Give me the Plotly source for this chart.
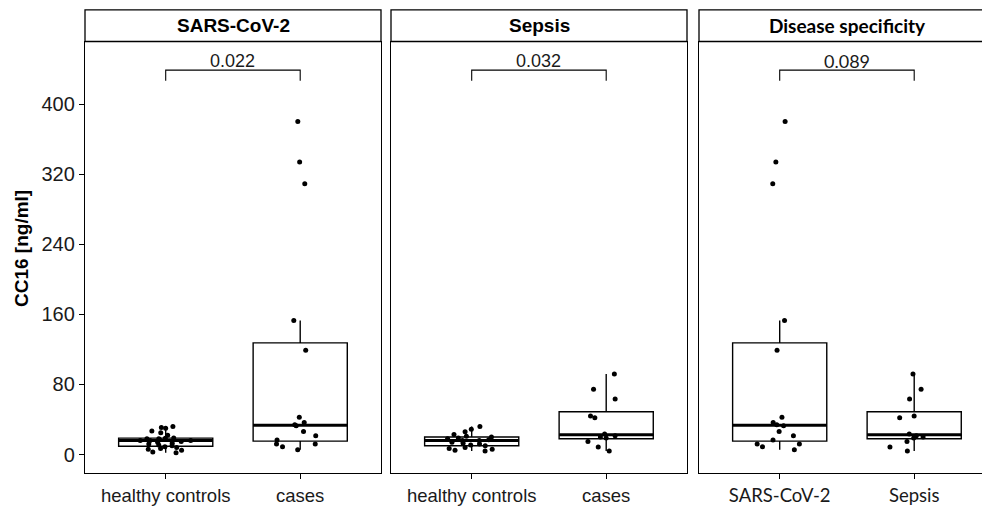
import numpy as np
import plotly.graph_objects as go

# ---------------- data ----------------
panel_titles = ["SARS-CoV-2", "Sepsis", "Disease specificity"]
panel_categories = [["healthy controls", "cases"],
                    ["healthy controls", "cases"],
                    ["SARS-CoV-2", "Sepsis"]]
p_values = ["0.022", "0.032", "0.089"]

covid_controls = [2, 3, 5, 6, 7, 8, 9, 10, 11, 12, 13, 14, 15, 16, 16, 16, 17,
                  18, 18, 18.5, 19, 22, 25, 27, 30, 31, 32]
covid_cases = [5.6, 9, 12, 12, 16.5, 21.4, 26.3, 33, 34, 36.5, 42.5, 119, 153,
               309, 334, 380]
sepsis_controls = [4, 5, 6, 7, 8, 10, 11, 12, 13, 14, 16, 16, 17, 18, 19, 20,
                   21, 23, 26, 29, 32]
sepsis_cases = [4.1, 8.7, 15, 19, 20, 21.5, 23.5, 42, 44, 63.5, 74.4, 92]

y_ticks = [0, 80, 160, 240, 320, 400]
y_title = "CC16 [ng/ml]"

panel_groups = [[covid_controls, covid_cases],
                [sepsis_controls, sepsis_cases],
                [covid_cases, sepsis_cases]]


def box_stats(vals):
    v = np.asarray(vals, dtype=float)
    q1, med, q3 = np.percentile(v, [25, 50, 75])
    iqr = q3 - q1
    lo = v[v >= q1 - 1.5 * iqr].min()
    hi = v[v <= q3 + 1.5 * iqr].max()
    return float(q1), float(med), float(q3), float(lo), float(hi)


# ---------------- layout geometry ----------------
W, H = 982, 506
panel_px = [(85, 381), (391, 687), (699, 982)]
full_right3 = 996
plot_top, plot_bottom, strip_top = 42, 479, 10
unit_px = 134.5
y_range = [-21.4, 471.4]
bracket_top, bracket_low, label_y = 438.7, 426.7, 449
box_w = 0.7

arial = "Liberation Sans, Arial, sans-serif"
calibri = "Lato, sans-serif"
txt = "#1a1a1a"

fig = go.Figure()
shapes = []
annotations = []
layout = {}

for i in range(3):
    suf = "" if i == 0 else str(i + 1)
    xa, ya = "x" + suf, "y" + suf
    cats = panel_categories[i]
    groups = panel_groups[i]
    fam = calibri if i == 2 else arial

    stats = [box_stats(g) for g in groups]
    fig.add_trace(go.Box(
        x=cats, xaxis=xa, yaxis=ya,
        q1=[s[0] for s in stats], median=[s[1] for s in stats],
        q3=[s[2] for s in stats], lowerfence=[s[3] for s in stats],
        upperfence=[s[4] for s in stats],
        boxpoints=False, width=box_w, whiskerwidth=0,
        fillcolor="rgba(0,0,0,0)",
        line=dict(color="black", width=1.4),
        showlegend=False, hoverinfo="skip",
    ))

    xs, ys = [], []
    for c, vals in zip(cats, groups):
        xs += [c] * len(vals)
        ys += list(vals)
    fig.add_trace(go.Box(
        x=xs, y=ys, xaxis=xa, yaxis=ya,
        boxpoints="all", jitter=0.6, pointpos=0, width=box_w,
        whiskerwidth=0, fillcolor="rgba(0,0,0,0)",
        line=dict(color="rgba(0,0,0,0)", width=0),
        marker=dict(color="black", size=5),
        showlegend=False, hoverinfo="y",
    ))

    # thicker median lines
    for j, s in enumerate(stats):
        shapes.append(dict(type="line", xref=xa, yref=ya,
                           x0=j - box_w / 2, x1=j + box_w / 2, y0=s[1], y1=s[1],
                           line=dict(color="black", width=3), layer="below"))

    x0, x1 = panel_px[i]
    layout["xaxis" + suf] = dict(
        domain=[x0 / W, x1 / W], anchor=ya, type="category",
        categoryorder="array", categoryarray=cats,
        range=[-0.6, -0.6 + (x1 - x0) / unit_px],
        showline=True, mirror=True, linecolor="black", linewidth=1.3,
        ticks="outside", ticklen=5, tickcolor="black", tickwidth=1.2,
        tickfont=dict(family=fam, size=18.5, color=txt),
        showgrid=False, zeroline=False, fixedrange=True,
    )
    layout["yaxis" + suf] = dict(
        domain=[1 - plot_bottom / H, 1 - plot_top / H], anchor=xa,
        range=y_range, showgrid=False, zeroline=False,
        showline=True, mirror=(i < 2), linecolor="black", linewidth=1.3,
        ticks="outside" if i == 0 else "", ticklen=5, tickcolor="black",
        tickwidth=1.2, tickvals=y_ticks, showticklabels=(i == 0),
        tickfont=dict(family=arial, size=20, color=txt), fixedrange=True,
    )

    # strip
    sx1 = x1 if i < 2 else full_right3
    shapes.append(dict(type="rect", xref="paper", yref="paper",
                       x0=x0 / W, x1=sx1 / W,
                       y0=1 - plot_top / H, y1=1 - strip_top / H,
                       line=dict(color="black", width=1.3), fillcolor="white",
                       layer="above"))
    annotations.append(dict(
        x=(x0 + sx1) / 2 / W, y=1 - (plot_top + strip_top) / 2 / H,
        xref="paper", yref="paper", text="<b>%s</b>" % panel_titles[i],
        showarrow=False, xanchor="center", yanchor="middle",
        font=dict(family=fam, size=19, color="black")))

    # significance bracket
    shapes.append(dict(type="path", xref=xa, yref=ya,
                       path="M 0,%g L 0,%g L 1,%g L 1,%g" % (
                           bracket_low, bracket_top, bracket_top, bracket_low),
                       line=dict(color="black", width=1.1)))
    annotations.append(dict(x=0.5, y=label_y, xref=xa, yref=ya,
                            text=p_values[i], showarrow=False,
                            xanchor="center", yanchor="middle",
                            font=dict(family=fam, size=18, color=txt)))

annotations.append(dict(x=21 / W, y=1 - 252 / H, xref="paper", yref="paper",
                        text="<b>%s</b>" % y_title, textangle=-90,
                        showarrow=False, xanchor="center", yanchor="middle",
                        font=dict(family=arial, size=19, color="black")))

fig.update_layout(
    width=W, height=H, margin=dict(l=0, r=0, t=0, b=0),
    paper_bgcolor="white", plot_bgcolor="white",
    shapes=shapes, annotations=annotations, showlegend=False,
    **layout,
)

fig.write_html("out.html", config={"displayModeBar": False},
               post_script="document.body.style.margin='0px';")
